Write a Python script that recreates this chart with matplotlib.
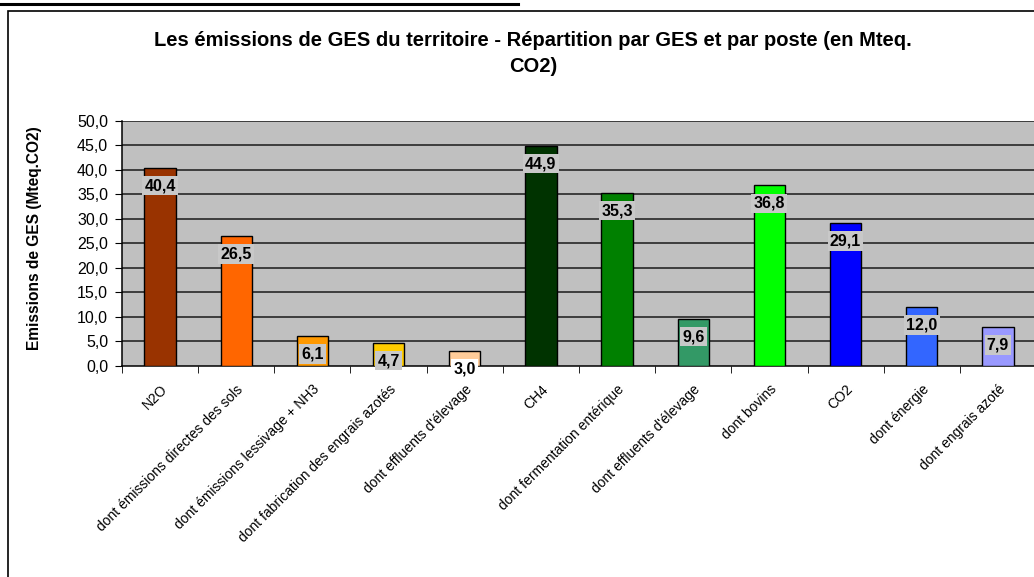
import matplotlib
matplotlib.use("Agg")
import matplotlib.pyplot as plt
from matplotlib.patches import Rectangle
from matplotlib.lines import Line2D
import numpy as np

categories = ["N2O", "dont émissions directes des sols", "dont émissions lessivage + NH3",
              "dont fabrication des engrais azotés", "dont effluents d'élevage", "CH4",
              "dont fermentation entérique", "dont effluents d'élevage", "dont bovins",
              "CO2", "dont énergie", "dont engrais azoté"]
values = [40.4, 26.5, 6.1, 4.7, 3.0, 44.9, 35.3, 9.6, 36.8, 29.1, 12.0, 7.9]
bar_colors = ["#993300", "#FF6600", "#FF9900", "#FFCC00", "#FFCC99", "#003300",
              "#008000", "#339966", "#00FF00", "#0000FF", "#3366FF", "#9999FF"]
label_bg = ["#C8C8C8"] * 4 + ["#FFFFFF"] + ["#C8C8C8"] * 7
yticks = np.arange(0, 50.1, 5)

title = "Les émissions de GES du territoire - Répartition par GES et par poste (en Mteq.\nCO2)"
ylabel = "Emissions de GES (Mteq.CO2)"

plt.rcParams['font.family'] = ['Liberation Sans', 'DejaVu Sans']

W, H = 1034, 577
fig = plt.figure(figsize=(W / 100, H / 100), dpi=100)

# chart area border and top rule
fig.add_artist(Rectangle((8 / W, -0.1), 1.1, 1 - 11 / H + 0.1, transform=fig.transFigure,
                         fill=False, edgecolor="black", linewidth=1.2))
fig.add_artist(Line2D([0, 518 / W], [1 - 4 / H, 1 - 4 / H], transform=fig.transFigure,
                      color="black", linewidth=2.2))

left, right = 122 / W, 1036 / W
top, bottom = 1 - 120.7 / H, 1 - 365.7 / H
ax = fig.add_axes([left, bottom, right - left, top - bottom])
ax.set_facecolor("#C0C0C0")

x = np.arange(len(categories))
ax.bar(x, values, width=0.41, color=bar_colors, edgecolor="black", linewidth=1.0, zorder=3)

ax.set_xlim(-0.5, len(categories) - 0.5)
ax.set_ylim(0, 50)
ax.set_yticks(yticks)
ax.set_yticklabels([f"{v:.1f}".replace(".", ",") for v in yticks], fontsize=11.5)
for v in yticks[1:]:
    ax.axhline(v, color="#1a1a1a", linewidth=1.1, zorder=1)

ax.set_xticks(x)
ax.set_xticklabels(categories, rotation=45, ha="right", va="top",
                   rotation_mode="anchor", fontsize=10)
ax.tick_params(axis="x", which="major", length=0, pad=12)
ax.set_xticks(np.arange(-0.5, len(categories), 1.0), minor=True)
ax.tick_params(axis="x", which="minor", length=5, direction="out", color="black")
ax.tick_params(axis="y", length=5, direction="out", color="black", pad=5)

for s in ["top", "right"]:
    ax.spines[s].set_visible(False)
ax.spines["left"].set_color("black")
ax.spines["bottom"].set_color("black")
ax.spines["left"].set_linewidth(1.1)
ax.spines["bottom"].set_linewidth(1.1)

for xi, v, bg in zip(x, values, label_bg):
    ax.annotate(f"{v:.1f}".replace(".", ","), xy=(xi, v), xytext=(0, -18),
                textcoords="offset pixels", ha="center", va="center",
                fontsize=11.5, fontweight="bold", zorder=5, annotation_clip=False,
                bbox=dict(boxstyle="square,pad=0.14", fc=bg, ec="none"))

ax.set_ylabel(ylabel, fontsize=11.2, fontweight="bold")
ax.yaxis.set_label_coords(-80 / (W * (right - left)), 0.52)

fig.text(533 / W, 1 - 40 / H, "Les émissions de GES du territoire - Répartition par GES et par poste (en Mteq.",
         ha="center", va="center", fontsize=14.5, fontweight="bold")
fig.text(533 / W, 1 - 67 / H, "CO2)", ha="center", va="center", fontsize=14.5, fontweight="bold")

fig.savefig("out.png", dpi=100)
